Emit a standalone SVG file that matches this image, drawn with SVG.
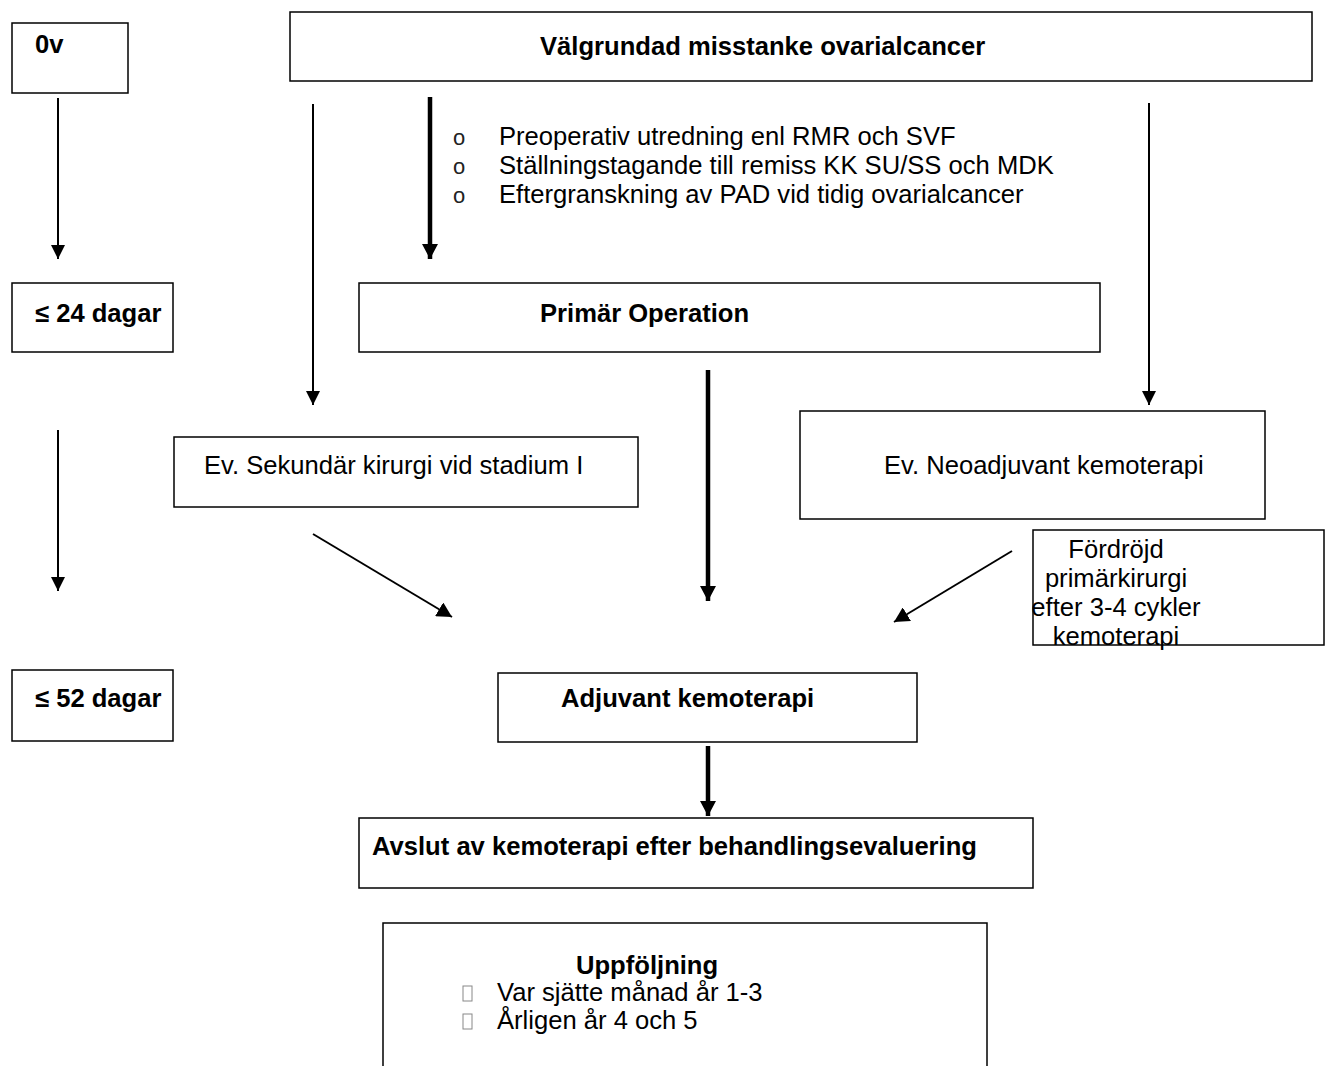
<svg xmlns="http://www.w3.org/2000/svg" width="1325" height="1066" viewBox="0 0 1325 1066">
<style>
.box{fill:#fff;stroke:#000;stroke-width:1.5}
.b{font-family:"Liberation Sans",Arial,sans-serif;font-weight:bold;font-size:25.6px;fill:#000}
.r{font-family:"Liberation Sans",Arial,sans-serif;font-size:25.6px;fill:#000}
.o{font-family:"Liberation Sans",Arial,sans-serif;font-size:22px;fill:#222}
.thin{stroke:#000;stroke-width:2;fill:none}
.thick{stroke:#000;stroke-width:4.5;fill:none}
.sq{fill:none;stroke:#888;stroke-width:1}
</style>
<defs>
<marker id="ah" viewBox="0 0 14 14" refX="14" refY="7" markerUnits="userSpaceOnUse" markerWidth="14" markerHeight="14" orient="auto"><path d="M0,0 L14,7 L0,14 Z" fill="#000"/></marker>
<marker id="ahb" viewBox="0 0 15 16" refX="15" refY="8" markerUnits="userSpaceOnUse" markerWidth="15" markerHeight="16" orient="auto"><path d="M0,0 L15,8 L0,16 Z" fill="#000"/></marker>
</defs>
<rect width="1325" height="1066" fill="#fff"/>
<g id="connectors">
<line class="thin" x1="58" y1="98" x2="58" y2="259" marker-end="url(#ah)"/>
<line class="thin" x1="58" y1="430" x2="58" y2="591" marker-end="url(#ah)"/>
<line class="thin" x1="313" y1="104" x2="313" y2="405" marker-end="url(#ah)"/>
<line class="thick" x1="430" y1="97" x2="430" y2="259" marker-end="url(#ahb)"/>
<line class="thin" x1="1149" y1="103" x2="1149" y2="405" marker-end="url(#ah)"/>
<line class="thick" x1="708" y1="370" x2="708" y2="601" marker-end="url(#ahb)"/>
<line class="thin" x1="313" y1="534" x2="452" y2="617" marker-end="url(#ahb)"/>
<line class="thin" x1="1012" y1="551" x2="894" y2="622" marker-end="url(#ahb)"/>
<line class="thick" x1="708" y1="746" x2="708" y2="816" marker-end="url(#ahb)"/>
</g>
<g id="n0v"><rect class="box" x="12" y="23" width="116" height="70"/><text class="b" x="35" y="53">0v</text></g>
<g id="misstanke"><rect class="box" x="290" y="12" width="1022" height="69"/><text class="b" x="540" y="55">Välgrundad misstanke ovarialcancer</text></g>
<g id="utredning">
<text class="o" x="453" y="145">o</text><text class="r" x="499" y="145">Preoperativ utredning enl RMR och SVF</text>
<text class="o" x="453" y="174">o</text><text class="r" x="499" y="174">Ställningstagande till remiss KK SU/SS och MDK</text>
<text class="o" x="453" y="203">o</text><text class="r" x="499" y="203">Eftergranskning av PAD vid tidig ovarialcancer</text>
</g>
<g id="d24"><rect class="box" x="12" y="283" width="161" height="69"/><text class="b" x="35" y="322">≤ 24 dagar</text></g>
<g id="primar"><rect class="box" x="359" y="283" width="741" height="69"/><text class="b" x="540" y="322">Primär Operation</text></g>
<g id="sekundar"><rect class="box" x="174" y="437" width="464" height="70"/><text class="r" x="204" y="474">Ev. Sekundär kirurgi vid stadium I</text></g>
<g id="neoadjuvant"><rect class="box" x="800" y="411" width="465" height="108"/><text class="r" x="884" y="474">Ev. Neoadjuvant kemoterapi</text></g>
<g id="fordrojd"><rect class="box" x="1033" y="530" width="291" height="115"/>
<text class="r" text-anchor="middle" x="1116" y="558">Fördröjd</text>
<text class="r" text-anchor="middle" x="1116" y="587">primärkirurgi</text>
<text class="r" text-anchor="middle" x="1116" y="616">efter 3-4 cykler</text>
<text class="r" text-anchor="middle" x="1116" y="645">kemoterapi</text></g>
<g id="d52"><rect class="box" x="12" y="670" width="161" height="71"/><text class="b" x="35" y="707">≤ 52 dagar</text></g>
<g id="adjuvant"><rect class="box" x="498" y="673" width="419" height="69"/><text class="b" x="561" y="707">Adjuvant kemoterapi</text></g>
<g id="avslut"><rect class="box" x="359" y="818" width="674" height="70"/><text class="b" x="372" y="855">Avslut av kemoterapi efter behandlingsevaluering</text></g>
<g id="uppfoljning"><rect class="box" x="383" y="923" width="604" height="160"/>
<text class="b" x="576" y="974">Uppföljning</text>
<rect class="sq" x="463" y="986" width="9" height="15"/><text class="r" x="497" y="1001">Var sjätte månad år 1-3</text>
<rect class="sq" x="463" y="1014" width="9" height="15"/><text class="r" x="497" y="1029">Årligen år 4 och 5</text></g>
</svg>
